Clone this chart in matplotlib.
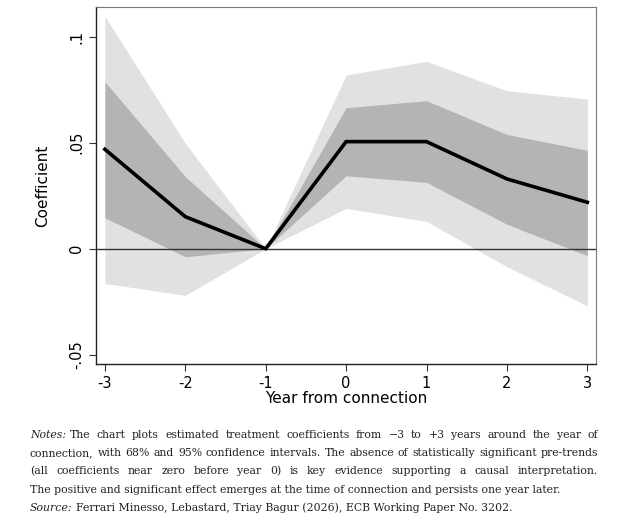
import matplotlib
matplotlib.use("Agg")
import matplotlib.pyplot as plt

years = [-3, -2, -1, 0, 1, 2, 3]
coef = [0.0469, 0.0151, 0.0, 0.0505, 0.0505, 0.0329, 0.0219]
ci68_lo = [0.0146, -0.0038, 0.0, 0.0344, 0.0313, 0.0115, -0.0033]
ci68_hi = [0.0788, 0.0340, 0.0, 0.0665, 0.0698, 0.0539, 0.0464]
ci95_lo = [-0.0164, -0.0220, 0.0, 0.0190, 0.0129, -0.0085, -0.0270]
ci95_hi = [0.1097, 0.0497, 0.0, 0.0819, 0.0884, 0.0745, 0.0706]

ytick_vals = [-0.05, 0, 0.05, 0.1]
ytick_labels = ["-.05", "0", ".05", ".1"]

# caption lines: (italic lead-in, rest of line, justified?)
note_lines = [
    ("Notes:", "The chart plots estimated treatment coefficients from \u22123 to +3 years around the year of", True),
    ("", "connection, with 68% and 95% confidence intervals. The absence of statistically significant pre-trends", True),
    ("", "(all coefficients near zero before year 0) is key evidence supporting a causal interpretation.", True),
    ("", "The positive and significant effect emerges at the time of connection and persists one year later.", False),
    ("Source:", "Ferrari Minesso, Lebastard, Triay Bagur (2026), ECB Working Paper No. 3202.", False),
]

fig = plt.figure(figsize=(6.26, 5.24), dpi=100)
ax = fig.add_axes([0.1534, 0.3053, 0.799, 0.6813])

ax.fill_between(years, ci95_lo, ci95_hi, color="#e1e1e1", linewidth=0)
ax.fill_between(years, ci68_lo, ci68_hi, color="#b4b4b4", linewidth=0)
ax.axhline(0, color="#333333", linewidth=1.0)
ax.plot(years, coef, color="black", linewidth=2.6, solid_joinstyle="miter")

ax.set_xlim(-3.11, 3.11)
ax.set_ylim(-0.0544, 0.114)
ax.set_xticks(years)
ax.set_xticklabels([str(y) for y in years], fontsize=10.5)
ax.set_yticks(ytick_vals)
ax.set_yticklabels(ytick_labels, fontsize=10.5, rotation=90, va="center")
ax.tick_params(direction="out", length=5, width=0.8, color="#333333")
for side in ["left", "bottom"]:
    ax.spines[side].set_color("#222222")
    ax.spines[side].set_linewidth(1.0)
for side in ["top", "right"]:
    ax.spines[side].set_color("#777777")
    ax.spines[side].set_linewidth(0.8)
ax.set_ylabel("Coefficient", fontsize=11, labelpad=14)
ax.set_xlabel("Year from connection", fontsize=11, labelpad=0)

# caption, justified like the source
renderer = fig.canvas.get_renderer()
left_px, right_px = 30, 598
top_px, step_px = 435, 18.2
family = "DejaVu Serif"
W, H = fig.bbox.width, fig.bbox.height


def text_width(s, style, size):
    t = fig.text(0, 0, s, fontsize=size, family=family, style=style)
    w = t.get_window_extent(renderer).width
    t.remove()
    return w


def put(x, y, s, style):
    fig.text(x / W, y / H, s, fontsize=fs, family=family, style=style,
             va="center", ha="left", color="#222222")


# size the caption so the unjustified 4th line ends where it does in the source
fs = 10 * 537 / text_width(note_lines[3][1], "normal", 10)

for i, (lead, rest, justify) in enumerate(note_lines):
    y = H - (top_px + i * step_px)
    x = left_px
    if lead:
        put(x, y, lead, "italic")
        x += text_width(lead + " ", "italic", fs)
    if not justify:
        put(x, y, rest, "normal")
        continue
    words = rest.split(" ")
    widths = [text_width(w, "normal", fs) for w in words]
    natural = text_width(rest, "normal", fs)
    base_gap = (natural - sum(widths)) / (len(words) - 1)
    gap = base_gap + (right_px - x - natural) / (len(words) - 1)
    for w, wd in zip(words, widths):
        put(x, y, w, "normal")
        x += wd + gap

fig.savefig("out.png", dpi=100)
